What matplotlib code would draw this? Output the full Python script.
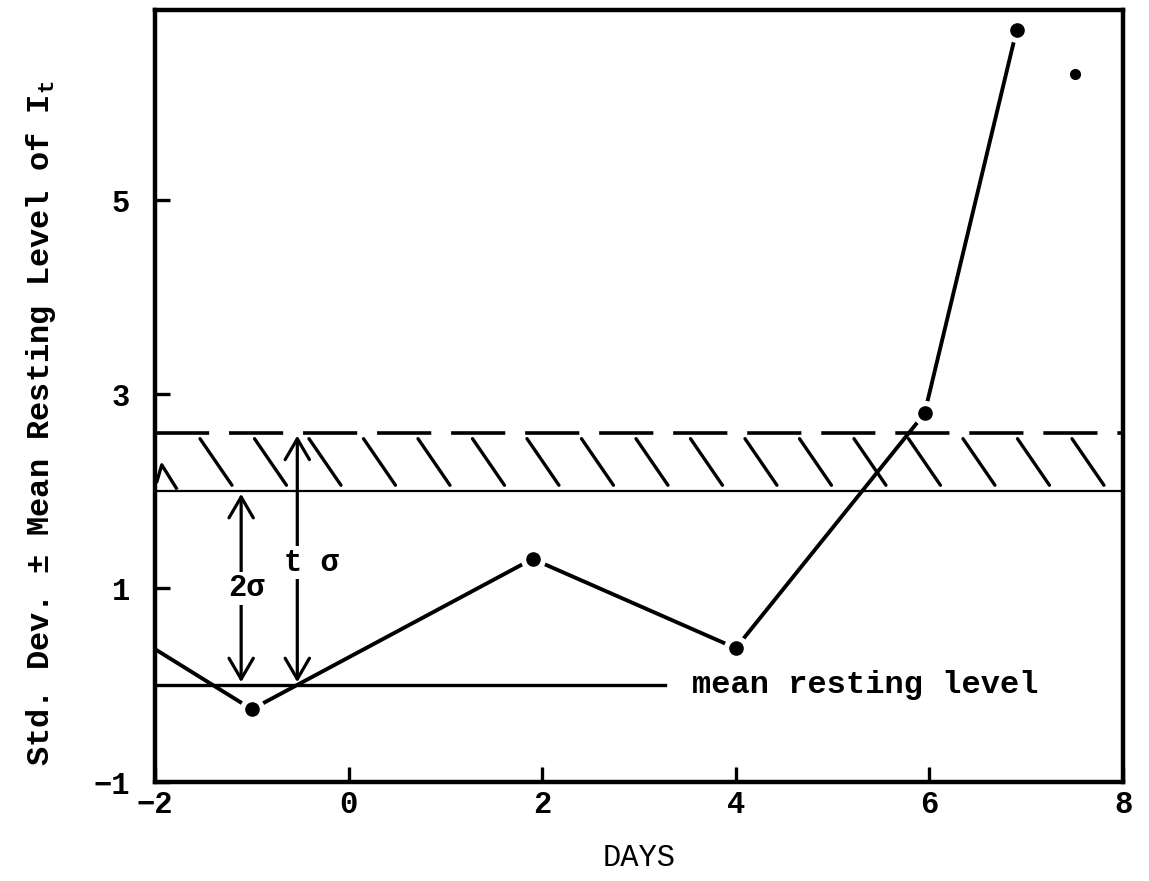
import numpy as np
import matplotlib.pyplot as plt

plt.rcParams['font.family'] = ['Liberation Mono', 'DejaVu Sans Mono']
plt.rcParams['font.weight'] = 'bold'
plt.rcParams['mathtext.default'] = 'regular'

# Daily values of I_t in std. dev. units about the mean resting level
days = [-2, -1, 1.9, 4, 5.95, 6.9]
levels = [0.37, -0.25, 1.3, 0.38, 2.8, 6.75]

# stray reading plotted on its own
extra_day = [7.5]
extra_level = [6.3]

mean_level = 0.0       # mean resting level
two_sigma = 2.0        # 2 sigma limit
t_sigma = 2.6          # t sigma limit
mean_line_end = 3.27   # where the mean line stops

x_ticks = [-2, 0, 2, 4, 6, 8]
y_ticks = [-1, 1, 3, 5]

fig = plt.figure(figsize=(11.49, 8.81), dpi=100)
ax = fig.add_axes([155 / 1149, 99 / 881, 968 / 1149, 772 / 881])

# limit lines
ax.axhline(two_sigma, color='black', lw=1.6)
ax.axhline(t_sigma, color='black', lw=2.6, linestyle=(0, (15, 5.5)))
ax.plot([-2, mean_line_end], [mean_level, mean_level], color='black', lw=2.4)
ax.text(3.55, mean_level, 'mean resting level', fontsize=23, va='center', ha='left')

# hand hatching between the two limits
for x0 in np.arange(-1.535, 7.6, 0.563):
    ax.plot([x0, x0 + 0.33], [t_sigma - 0.06, two_sigma + 0.06], color='black', lw=2.4,
            solid_capstyle='round')
ax.plot([-1.98, -1.93, -1.78], [2.1, 2.27, 2.03], color='black', lw=2.4)

# the series itself
ax.plot(days, levels, color='black', lw=2.8, zorder=3)
ax.plot(days[1:], levels[1:], 'o', color='white', markersize=17, zorder=4)
ax.plot(days[1:], levels[1:], 'o', color='black', markersize=9.5, zorder=5)
ax.plot(extra_day, extra_level, 'o', color='black', markersize=7, zorder=5)

# 2 sigma and t sigma arrows
arrow = dict(arrowstyle='<->,head_length=0.6,head_width=0.35', lw=2.3,
             mutation_scale=25, shrinkA=2, shrinkB=2, color='black')
ax.annotate('', xy=(-1.11, two_sigma), xytext=(-1.11, mean_level), arrowprops=arrow)
ax.annotate('', xy=(-0.53, t_sigma), xytext=(-0.53, mean_level), arrowprops=arrow)
white = dict(facecolor='white', edgecolor='none', pad=1)
ax.text(-1.06, 1.0, '2σ', fontsize=22, ha='center', va='center', bbox=white, zorder=6)
ax.text(-0.38, 1.26, 't σ', fontsize=22, ha='center', va='center', bbox=white, zorder=6)

ax.set_xlim(-2, 8)
ax.set_ylim(-1, 6.96)
ax.set_xticks(x_ticks)
ax.set_yticks(y_ticks)
ax.tick_params(direction='in', length=11, width=2.4, labelsize=22)
ax.tick_params(axis='y', pad=18)
ax.tick_params(axis='x', pad=6)
for s in ax.spines.values():
    s.set_linewidth(3.2)

ax.set_xlabel('DAYS', fontsize=22, labelpad=16)
fig.text(0.036, 0.52, 'Std. Dev. ± Mean Resting Level of I$_t$', fontsize=23,
         rotation=90, ha='center', va='center')

fig.savefig('out.png', dpi=100)
